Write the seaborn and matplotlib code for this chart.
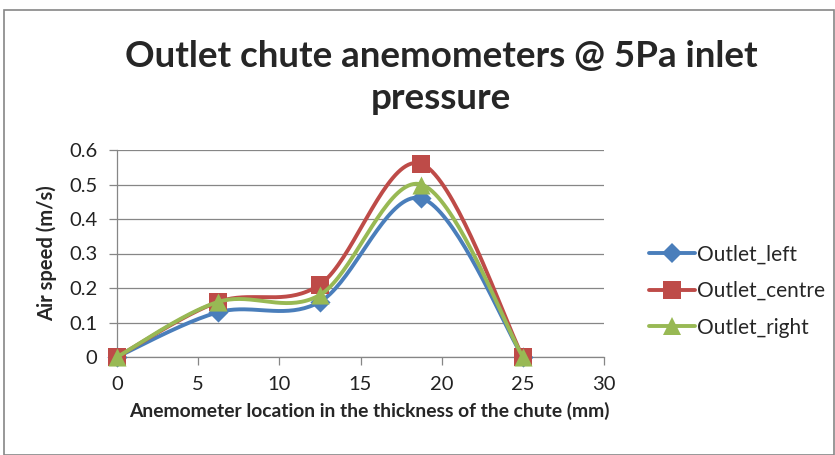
import numpy as np
import pandas as pd
import matplotlib
matplotlib.use("Agg")
import matplotlib.pyplot as plt
import seaborn as sns
from matplotlib.patches import Rectangle
from matplotlib.lines import Line2D

x_vals = [0, 6.25, 12.5, 18.75, 25]
outlet_left = [0, 0.13, 0.16, 0.46, 0]
outlet_centre = [0, 0.16, 0.21, 0.56, 0]
outlet_right = [0, 0.16, 0.18, 0.50, 0]
series_names = ["Outlet_left", "Outlet_centre", "Outlet_right"]
colors = ["#4A7EBB", "#BE4B48", "#98B954"]
markers = ["D", "s", "^"]
msizes = [105, 170, 170]

sns.set_style("white")
plt.rcParams['font.family'] = ['Lato', 'DejaVu Sans']

fig = plt.figure(figsize=(8.35, 4.55), dpi=100)
ax = fig.add_axes([117/835, 1-357/455, (604-117)/835, (357-150)/455])

def smooth(xs, ys, n=40):
    # Excel-like Bezier smoothing (Catmull-Rom control points)
    P = np.column_stack([xs, ys]).astype(float)
    out = []
    for i in range(len(P)-1):
        p0 = P[i-1] if i > 0 else P[i]
        p1 = P[i]
        p2 = P[i+1]
        p3 = P[i+2] if i+2 < len(P) else P[i+1]
        c1 = p1 + (p2 - p0)/6
        c2 = p2 - (p3 - p1)/6
        t = np.linspace(0, 1, n)[:, None]
        seg = (1-t)**3*p1 + 3*(1-t)**2*t*c1 + 3*(1-t)*t**2*c2 + t**3*p2
        out.append(seg if i == 0 else seg[1:])
    out = np.vstack(out)
    return out[:, 0], out[:, 1]

data = [outlet_left, outlet_centre, outlet_right]
for k, (name, ys, c, m, s) in enumerate(zip(series_names, data, colors, markers, msizes)):
    sx, sy = smooth(x_vals, ys)
    ax.plot(sx, sy, color=c, lw=2.8, solid_capstyle='round', zorder=2 + 2*k,
            clip_on=False)
    df = pd.DataFrame({"x": x_vals, "y": ys})
    sns.scatterplot(data=df, x="x", y="y", ax=ax, color=c, marker=m, s=s,
                    edgecolor=c, linewidth=0, zorder=3 + 2*k, legend=False,
                    clip_on=False)

ax.set_xlim(0, 30)
ax.set_ylim(0, 0.6)
ax.set_xticks([0, 5, 10, 15, 20, 25, 30])
ax.set_yticks([0, 0.1, 0.2, 0.3, 0.4, 0.5, 0.6])
ax.set_yticklabels(["0", "0.1", "0.2", "0.3", "0.4", "0.5", "0.6"])
ax.grid(axis='y', color='#868686', lw=0.9)
ax.set_axisbelow(True)
for sp in ["top", "right"]:
    ax.spines[sp].set_visible(False)
for sp in ["left", "bottom"]:
    ax.spines[sp].set_color('#868686')
    ax.spines[sp].set_linewidth(0.9)
ax.tick_params(axis='both', which='both', direction='out', length=6, width=0.9,
               color='#868686', labelsize=14.5, labelcolor='#222222')
ax.tick_params(axis='x', bottom=True, pad=8)
ax.tick_params(axis='y', left=True, pad=8)
ax.set_xlabel("Anemometer location in the thickness of the chute (mm)",
              fontsize=13.9, fontweight='bold')
ax.set_ylabel("Air speed (m/s)", fontsize=14.5, fontweight='bold')
ax.xaxis.set_label_coords((369-117)/487, -(411-357)/207, transform=ax.transAxes)
ax.xaxis.label.set_va('center')
ax.yaxis.set_label_coords(-(117-47)/487, 0.5, transform=ax.transAxes)
ax.yaxis.label.set_va('center')

fig.text(0.528, 1-77.5/455, "Outlet chute anemometers @ 5Pa inlet\npressure",
         ha='center', va='center', fontsize=26.5, fontweight='bold',
         linespacing=1.35)

handles = [Line2D([0], [0], color=c, lw=2.8, marker=m,
                  markersize=(10 if m == 'D' else 13), markeredgewidth=0)
           for c, m in zip(colors, markers)]
fig.legend(handles, series_names, loc='upper left',
           bbox_to_anchor=(641/835, 1-236/455), frameon=False,
           fontsize=15, handlelength=2.2, handletextpad=0.1,
           labelspacing=0.8, borderaxespad=0)

fig.patches.append(Rectangle((4/835, 0), 1-5/835, 1-10/455, transform=fig.transFigure,
                             fill=False, edgecolor='#868686', lw=1.2))

fig.savefig("out.png", dpi=100)
